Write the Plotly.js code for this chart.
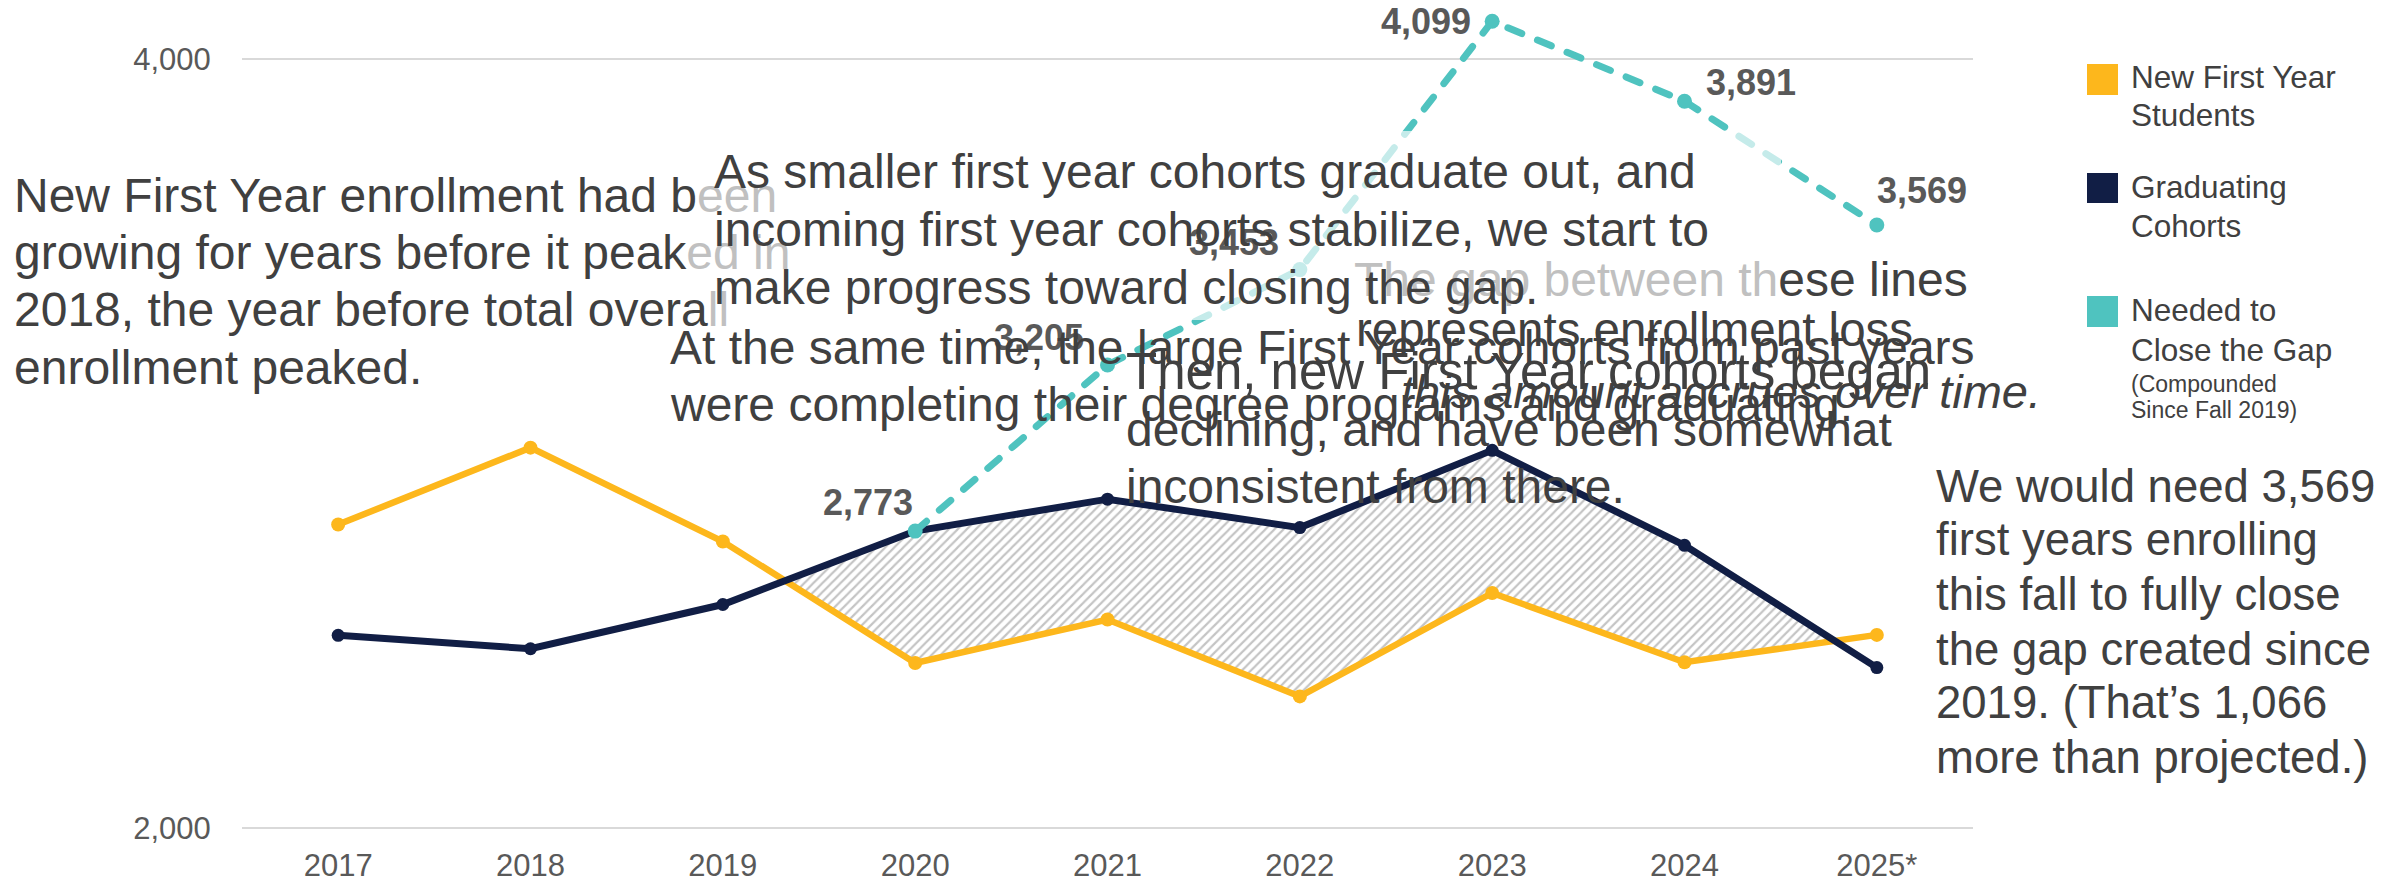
<!DOCTYPE html>
<html><head><meta charset="utf-8">
<script src="https://cdn.plot.ly/plotly-3.0.1.min.js"></script>
<style>html,body{margin:0;padding:0;background:#fff;} #chart{width:2400px;height:882px;}
.scatterlayer .js-line{stroke-linecap:round;}</style>
</head><body><div id="chart"></div>
<script>
// ---- data ----
const years = [2017, 2018, 2019, 2020, 2021, 2022, 2023, 2024, 2025];
const yearLabels = ['2017', '2018', '2019', '2020', '2021', '2022', '2023', '2024', '2025*'];
const newFirstYear = [2790, 2990, 2746, 2430, 2543, 2343, 2612, 2432, 2503];
const graduating = [2502, 2467, 2582, 2773, 2856, 2782, 2983, 2736, 2418];
const neededYears = [2020, 2021, 2022, 2023, 2024, 2025];
const neededToClose = [2773, 3205, 3453, 4099, 3891, 3569];
const yTicks = [2000, 4000];
const seriesNames = ['New First Year<br>Students', 'Graduating<br>Cohorts', 'Needed to<br>Close the Gap'];

// ---- styles ----
const C_YEL = '#FDB71C', C_NAVY = '#111E45', C_TEAL = '#4FC3BF';
const C_TEXT = '#404040', C_FADE = '#c0c0c0', C_TICK = '#595959';
const FONT = 'Liberation Sans, Arial, Helvetica, sans-serif';
const PL = 242, PW = 1731, PB = 830, PH = 825;
const px = x => (x - PL) / PW;
const py = y => (PB - y) / PH;

// hatch region between graduating (above) and new first year (below)
function crossing(i) {
  const d0 = graduating[i] - newFirstYear[i], d1 = graduating[i + 1] - newFirstYear[i + 1];
  const t = d0 / (d0 - d1);
  return {x: years[i] + t * (years[i + 1] - years[i]), y: newFirstYear[i] + t * (newFirstYear[i + 1] - newFirstYear[i])};
}
const cross = [];
for (let i = 0; i < years.length - 1; i++) {
  const d0 = graduating[i] - newFirstYear[i], d1 = graduating[i + 1] - newFirstYear[i + 1];
  if (d0 * d1 < 0) cross.push(i);
}
const iA = cross[0], iB = cross[cross.length - 1];
const cA = crossing(iA), cB = crossing(iB);
const hx = [cA.x], hy = [cA.y];
for (let i = iA + 1; i <= iB; i++) { hx.push(years[i]); hy.push(graduating[i]); }
hx.push(cB.x); hy.push(cB.y);
for (let i = iB; i >= iA + 1; i--) { hx.push(years[i]); hy.push(newFirstYear[i]); }
hx.push(cA.x); hy.push(cA.y);

const traces = [
  {x: hx, y: hy, type: 'scatter', mode: 'lines', line: {width: 0, color: 'rgba(0,0,0,0)'},
   fill: 'toself', fillcolor: 'rgba(255,255,255,0)',
   fillpattern: {shape: '/', fgcolor: '#c4c4c4', bgcolor: '#ffffff', size: 6.4, solidity: 0.33},
   hoverinfo: 'skip'},
  {x: years, y: newFirstYear, type: 'scatter', mode: 'lines+markers', name: seriesNames[0],
   line: {color: C_YEL, width: 6.5}, marker: {color: C_YEL, size: 14}},
  {x: years, y: graduating, type: 'scatter', mode: 'lines+markers', name: seriesNames[1],
   line: {color: C_NAVY, width: 7}, marker: {color: C_NAVY, size: 13}},
  {x: neededYears, y: neededToClose, type: 'scatter', mode: 'lines+markers', name: seriesNames[2],
   line: {color: C_TEAL, width: 7, dash: '15px,17px'}, marker: {color: C_TEAL, size: 15}, cliponaxis: false}
];

// label placement (style only): [xanchor, xshift, yshift]
const labelPos = [['right', 0, 29], ['right', -22, 27], ['right', -19, 27], ['right', -19, 0], ['left', 19, 19], ['left', -2, 35]];
const annotations = [];
neededToClose.forEach((v, i) => {
  annotations.push({x: neededYears[i], y: v, xref: 'x', yref: 'y', text: v.toLocaleString('en-US'),
    showarrow: false, xanchor: labelPos[i][0], yanchor: 'middle', xshift: labelPos[i][1], yshift: labelPos[i][2],
    font: {family: FONT, size: 36, color: C_TICK, weight: 'bold'}});
});

function txt(x, y, text, size, extra) {
  annotations.push(Object.assign({x: px(x), y: py(y), xref: 'paper', yref: 'paper', text: text, showarrow: false,
    xanchor: 'left', yanchor: 'middle', align: 'left', font: {family: FONT, size: size, color: C_TEXT}}, extra || {}));
}
const fade = s => '<span style="color:' + C_FADE + '">' + s + '</span>';
const S = 48;
// block 1
txt(12, 195, 'New First Year enrollment had b' + fade('een'), S);
txt(12, 252, 'growing for years before it peak' + fade('ed in'), S);
txt(12, 309, '2018, the year before total overa' + fade('ll'), S);
txt(12, 367, 'enrollment peaked.', S);
// block 4 (under block 2)
txt(1352, 279, fade('The gap between th') + 'ese lines', S);
txt(1354, 329, 'represents enrollment loss', 47.5);
txt(1399, 391, '<i>this amount accrues over time.</i>', 47);
// block 3
txt(668, 347, 'At the same time, the large First Year cohorts from past years', S);
txt(668, 404, 'were completing their degree programs and graduating.', S);
// block 5
txt(1124, 371, 'Then, new First Year cohorts began', 51);
txt(1124, 429, 'declining, and have been somewhat', 48);
txt(1124, 486, 'inconsistent from there.', 48);
// block 2
txt(712, 172, 'As smaller first year cohorts graduate out, and', S);
txt(712, 230, 'incoming first year cohorts stabilize, we start to', S);
txt(712, 287, 'make progress toward closing the gap.', S);
// block 6
const S6 = 45.5;
txt(1934, 486, 'We would need 3,569', S6);
txt(1934, 539, 'first years enrolling', S6);
txt(1934, 594, 'this fall to fully close', S6);
txt(1934, 649, 'the gap created since', S6);
txt(1934, 702, '2019. (That\u2019s 1,066', S6);
txt(1934, 757, 'more than projected.)', S6);

// custom legend
const legColors = [C_YEL, C_NAVY, C_TEAL];
const legSquares = [[64, 95], [173, 203], [296, 327]];
const shapes = [];
legColors.forEach((c, i) => {
  shapes.push({type: 'rect', xref: 'paper', yref: 'paper', x0: px(2087), x1: px(2118),
    y0: py(legSquares[i][1]), y1: py(legSquares[i][0]), fillcolor: c, line: {width: 0}});
});
const legLines = [
  [seriesNames[0].split('<br>'), [77, 115]],
  [seriesNames[1].split('<br>'), [187, 226]],
  [seriesNames[2].split('<br>'), [310, 350]]
];
legLines.forEach(([lines, ys]) => lines.forEach((l, j) => txt(2129, ys[j], l, 31.5)));
txt(2129, 384, '(Compounded', 23);
txt(2129, 410, 'Since Fall 2019)', 23);

// semi-transparent fading box (animation frame)
shapes.push({type: 'rect', xref: 'paper', yref: 'paper', x0: px(693), x1: px(1781), y0: py(320), y1: py(131),
  fillcolor: 'rgba(255,255,255,0.67)', line: {width: 0}, layer: 'above'});

const layout = {
  width: 2400, height: 882,
  margin: {l: PL, r: 2400 - PL - PW, t: 5, b: 882 - PB},
  paper_bgcolor: '#ffffff', plot_bgcolor: '#ffffff',
  showlegend: false,
  font: {family: FONT, color: C_TEXT},
  xaxis: {range: [2016.5, 2025.5], tickvals: years, ticktext: yearLabels, showgrid: false, zeroline: false,
    showline: false, ticks: 'outside', ticklen: 8, tickcolor: 'rgba(0,0,0,0)',
    tickfont: {family: FONT, size: 31, color: C_TICK}, automargin: false, fixedrange: true},
  yaxis: {range: [1995.6, 4141.2], tickvals: yTicks, tickformat: ',', showgrid: true, gridcolor: '#d9d9d9',
    gridwidth: 2, zeroline: false, showline: false, ticks: 'outside', ticklen: 24, tickcolor: 'rgba(0,0,0,0)',
    tickfont: {family: FONT, size: 31, color: C_TICK}, automargin: false, fixedrange: true},
  annotations: annotations,
  shapes: shapes
};
Plotly.newPlot('chart', traces, layout, {displayModeBar: false, staticPlot: true});
</script>
</body></html>
